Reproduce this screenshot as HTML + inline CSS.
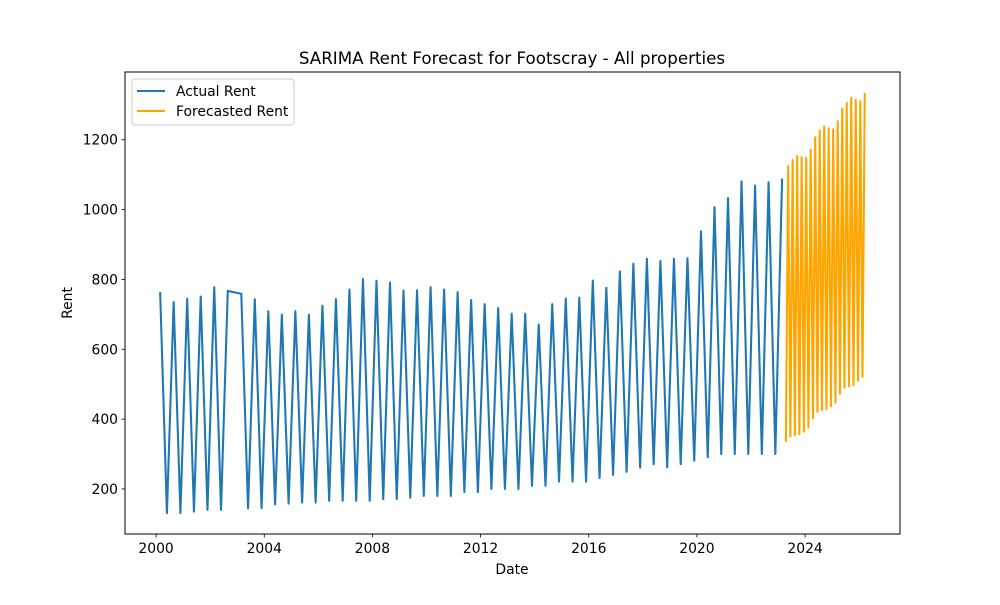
<!DOCTYPE html>
<html><head><meta charset="utf-8"><style>
body{margin:0;background:#fff;}
svg text{font-family:"DejaVu Sans","Liberation Sans",sans-serif;}
</style></head><body>
<svg id="chart" width="1000" height="600" xmlns="http://www.w3.org/2000/svg">
<rect width="1000" height="600" fill="#fff"/>
<text x="512" y="64" text-anchor="middle" font-size="16.7">SARIMA Rent Forecast for Footscray - All properties</text>
<g id="plot"></g>
<rect x="125" y="72" width="775" height="462" fill="none" stroke="#000" stroke-width="1"/>
<text x="512" y="574" text-anchor="middle" font-size="13.9">Date</text>
<text transform="translate(72,303) rotate(-90)" text-anchor="middle" font-size="13.9">Rent</text>
<g>
<rect x="132" y="79" width="162" height="46" rx="3" fill="#fff" fill-opacity="0.8" stroke="#ccc"/>
<line x1="137" y1="91" x2="165" y2="91" stroke="#1f77b4" stroke-width="2.08"/>
<text x="176" y="96" font-size="13.9">Actual Rent</text>
<line x1="137" y1="111" x2="165" y2="111" stroke="#ffa500" stroke-width="2.08"/>
<text x="176" y="116" font-size="13.9">Forecasted Rent</text>
</g>
</svg>
<script>
const actualStart = 2000.15;
const actualStep = 0.25;
const actualValues = [764,131,735,131,745,135,751,140,778,140,767,null,759,145,743,145,709,156,699,158,709,161,699,161,725,166,744,166,771,166,801,166,796,171,791,171,768,175,769,180,778,180,771,180,764,191,741,191,729,200,718,200,702,200,702,209,671,209,729,221,745,221,748,221,797,231,776,240,823,249,845,261,859,271,853,262,859,271,861,281,938,291,1007,300,1033,300,1081,300,1069,300,1078,300,1089];
const forecastStart = 2023.29;
const forecastStep = 1/12;
const forecastValues = [335,1124,351,1142,354,1153,357,1150,364,1148,376,1171,402,1207,421,1226,426,1238,428,1233,437,1230,447,1253,473,1289,490,1306,494,1320,497,1314,510,1310,521,1334];
const xTicks = [2000,2004,2008,2012,2016,2020,2024];
const yTicks = [200,400,600,800,1000,1200];

const X0=1998.85,X1=2027.51,Y0=71,Y1=1394;
function xs(t){return 125+(t-X0)/(X1-X0)*775;}
function ys(v){return 534-(v-Y0)/(Y1-Y0)*462;}
const NS="http://www.w3.org/2000/svg";
const svg=document.getElementById('chart');
const plot=document.getElementById('plot');
function mk(tag,attrs,parent){const e=document.createElementNS(NS,tag);for(const k in attrs)e.setAttribute(k,attrs[k]);(parent||svg).appendChild(e);return e;}

xTicks.forEach(t=>{
  const x=xs(t);
  const l=mk('line',{x1:x,y1:534,x2:x,y2:537.5,stroke:'#000','stroke-width':0.8});
  
  
  const tx=mk('text',{x:x,y:553,'text-anchor':'middle','font-size':13.9});
  tx.textContent=t;
  
  
});
yTicks.forEach(v=>{
  const y=ys(v);
  const l=mk('line',{x1:121.5,y1:y,x2:125,y2:y,stroke:'#000','stroke-width':0.8});
  
  
  const tx=mk('text',{x:118,y:y+5,'text-anchor':'end','font-size':13.9});
  tx.textContent=v;
  
  
});

function path(start,step,vals){
  const pts=[];
  vals.forEach((v,i)=>{if(v!==null)pts.push(xs(start+i*step).toFixed(2)+','+ys(v).toFixed(2));});
  return 'M'+pts.join('L');
}
const pa=mk('path',{d:path(actualStart,actualStep,actualValues),fill:'none',stroke:'#1f77b4','stroke-width':2.08,'stroke-linejoin':'round'},plot);


const pf=mk('path',{d:path(forecastStart,forecastStep,forecastValues),fill:'none',stroke:'#ffa500','stroke-width':2.08,'stroke-linejoin':'round'},plot);


</script>
</body></html>
